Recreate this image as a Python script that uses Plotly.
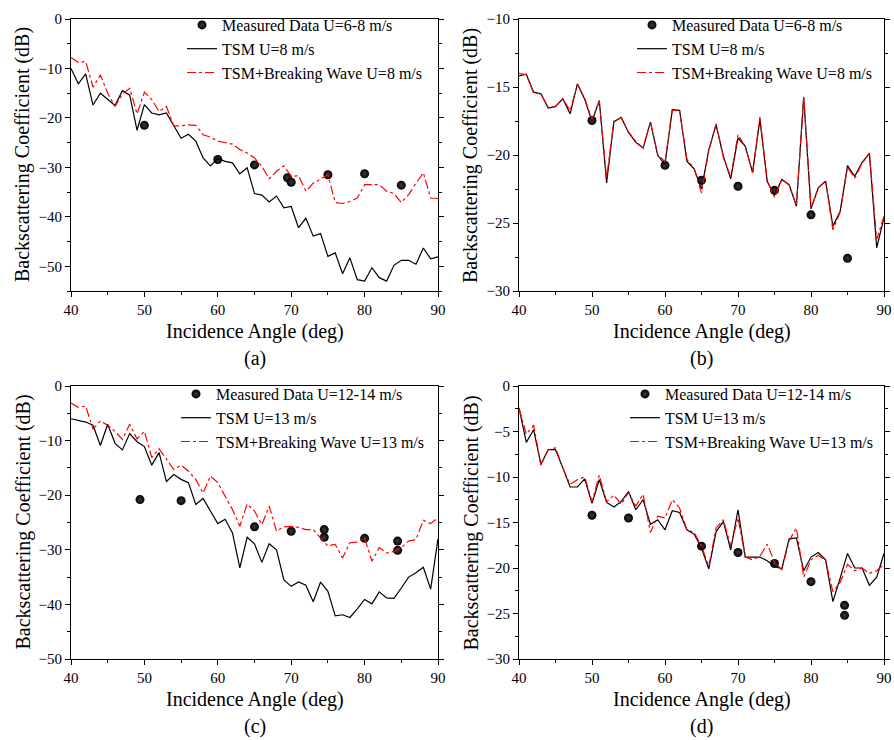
import plotly.graph_objects as go

ANGLES = [40, 41, 42, 43, 44, 45, 46, 47, 48, 49, 50, 51, 52, 53, 54, 55, 56, 57, 58, 59,
          60, 61, 62, 63, 64, 65, 66, 67, 68, 69, 70, 71, 72, 73, 74, 75, 76, 77, 78, 79,
          80, 81, 82, 83, 84, 85, 86, 87, 88, 89, 90]

# Panel (a): U = 8 m/s, first geometry
tsm_a = [-10.0, -13.1, -11.1, -17.4, -15.0, -16.2, -17.5, -14.5, -15.4, -22.5, -17.3, -19.0, -19.4,
         -19.0, -21.5, -24.1, -23.3, -24.7, -28.1, -29.7, -28.2, -28.8, -29.1, -31.3, -30.1,
         -35.3, -35.6, -37.0, -35.8, -38.2, -37.9, -42.2, -40.3, -43.9, -43.4, -48.0, -47.3,
         -51.5, -48.3, -52.7, -53.0, -50.3, -52.3, -53.0, -49.8, -48.8, -48.8, -49.6, -46.3,
         -48.5, -48.1]
bw_a = [-7.8, -8.8, -8.6, -13.8, -11.3, -15.0, -17.7, -15.2, -14.0, -19.2, -14.8, -16.3, -18.7,
        -17.7, -21.6, -21.6, -21.4, -21.5, -23.4, -23.9, -24.7, -25.0, -25.3, -26.4, -27.1,
        -28.1, -29.8, -32.3, -30.8, -29.7, -31.8, -31.7, -34.8, -33.2, -32.3, -31.5, -37.1,
        -37.3, -36.9, -36.2, -33.5, -33.5, -33.5, -34.8, -35.3, -37.1, -35.5, -33.2, -31.1,
        -36.2, -36.3]
meas_a_x = [50, 60, 65, 69.5, 70, 75, 80, 85]
meas_a_y = [-21.5, -28.4, -29.5, -32.1, -33.0, -31.5, -31.3, -33.6]

# Panel (b): U = 8 m/s, second geometry
tsm_b = [-14.18, -14.06, -15.38, -15.5, -16.55, -16.43, -15.87, -16.97, -14.77, -15.9, -17.53,
         -15.99, -22.05, -17.55, -17.24, -18.34, -19.07, -19.49, -17.58, -20.02, -20.7, -16.67,
         -16.72, -20.46, -21.03, -22.5, -19.6, -17.78, -20.1, -21.76, -18.75, -19.36, -21.3,
         -17.4, -21.93, -22.98, -21.8, -22.18, -23.77, -15.75, -23.96, -22.42, -21.93, -25.23,
         -24.13, -20.78, -21.56, -20.54, -19.9, -26.82, -24.62]
bw_b = [-14.0, -14.1, -15.45, -15.5, -16.5, -16.45, -15.85, -16.75, -14.8, -15.85, -17.4, -16.05,
        -21.7, -17.5, -17.25, -18.3, -19.0, -19.5, -17.55, -19.95, -20.5, -16.7, -16.75, -20.3,
        -21.0, -22.8, -19.7, -17.7, -20.2, -21.6, -18.5, -19.4, -21.3, -17.2, -21.9, -23.1,
        -21.8, -22.2, -23.7, -15.7, -23.9, -22.4, -21.9, -25.5, -24.2, -20.9, -21.7, -20.6,
        -19.85, -26.2, -24.5]
meas_b_x = [50, 60, 65, 70, 75, 80, 85]
meas_b_y = [-17.46, -20.76, -21.86, -22.3, -22.6, -24.4, -27.6]

# Panel (c): U = 13 m/s, first geometry
tsm_c = [-6.0, -6.3, -6.6, -7.2, -10.9, -7.0, -10.5, -11.7, -8.7, -10.2, -11.1, -14.5, -12.2,
         -17.5, -16.2, -17.1, -17.7, -21.7, -20.6, -22.9, -25.2, -24.4, -26.9, -33.3, -27.7,
         -28.9, -32.3, -28.9, -30.0, -35.5, -36.7, -35.9, -36.5, -39.5, -35.9, -37.6, -42.1,
         -41.9, -42.4, -40.8, -39.1, -39.9, -37.7, -38.8, -38.9, -37.0, -35.0, -34.2, -33.2,
         -37.2, -28.0]
bw_c = [-3.1, -3.9, -3.7, -7.9, -6.4, -7.2, -8.3, -9.8, -7.0, -9.7, -8.3, -13.1, -11.5, -13.4,
        -15.3, -14.5, -15.6, -17.1, -19.6, -16.5, -17.7, -20.2, -22.6, -25.7, -21.6, -22.9,
        -25.4, -22.0, -26.6, -25.8, -25.7, -25.9, -26.3, -26.3, -27.8, -29.3, -29.0, -31.5,
        -28.7, -28.6, -27.8, -32.1, -29.6, -30.6, -30.3, -29.6, -28.4, -28.1, -24.6, -25.2,
        -24.1]
meas_c_x = [49.4, 55, 65, 70, 74.5, 74.5, 80, 84.5, 84.5]
meas_c_y = [-20.8, -21.0, -25.8, -26.6, -26.3, -27.7, -27.9, -28.4, -30.1]

# Panel (d): U = 13 m/s, second geometry
tsm_d = [-2.4, -6.2, -4.8, -8.6, -7.0, -7.0, -9.0, -11.1, -11.1, -10.2, -12.9, -10.3, -12.8,
         -13.3, -12.7, -11.6, -13.6, -12.5, -15.2, -14.7, -15.8, -13.7, -13.9, -15.8, -16.3,
         -17.8, -20.1, -16.0, -14.9, -18.0, -13.6, -18.8, -18.8, -18.8, -19.2, -19.8, -20.1,
         -16.8, -16.7, -20.3, -18.8, -18.3, -19.1, -23.7, -21.1, -18.4, -20.0, -20.0, -21.9,
         -21.0, -18.4]
bw_d = [-2.4, -5.3, -4.3, -8.7, -7.0, -6.8, -9.0, -10.8, -10.3, -10.0, -12.7, -9.8, -12.7, -12.0,
        -13.0, -11.7, -13.2, -11.9, -16.1, -14.3, -14.5, -12.5, -13.4, -15.8, -16.1, -17.6,
        -19.8, -15.6, -14.7, -17.6, -14.5, -18.8, -19.1, -18.7, -17.4, -19.3, -20.2, -17.0,
        -15.6, -21.0, -19.1, -18.6, -19.2, -22.6, -21.6, -19.6, -20.3, -20.0, -20.6, -20.3,
        -19.6]
meas_d_x = [50, 55, 65, 70, 75, 80, 84.6, 84.6]
meas_d_y = [-14.2, -14.5, -17.6, -18.3, -19.5, -21.5, -24.1, -25.2]

labels_8 = ["Measured Data U=6-8 m/s", "TSM U=8 m/s", "TSM+Breaking Wave U=8 m/s"]
labels_13 = ["Measured Data U=12-14 m/s", "TSM U=13 m/s", "TSM+Breaking Wave U=13 m/s"]
panel_letters = ["(a)", "(b)", "(c)", "(d)"]
x_title = "Incidence Angle (deg)"
y_title = "Backscattering Coefficient (dB)"

FONT = "Liberation Serif"
W, H = 894, 740

panels = [
    dict(tsm=tsm_a, bw=bw_a, mx=meas_a_x, my=meas_a_y, labels=labels_8,
         px=(71, 438), py=(19, 291), yr=(-55, 0), dt=10, mdt=5, leg=(182, 8)),
    dict(tsm=tsm_b, bw=bw_b, mx=meas_b_x, my=meas_b_y, labels=labels_8,
         px=(519, 884), py=(19, 291), yr=(-30, -10), dt=5, mdt=2.5, leg=(632, 8)),
    dict(tsm=tsm_c, bw=bw_c, mx=meas_c_x, my=meas_c_y, labels=labels_13,
         px=(71, 438), py=(386, 659), yr=(-50, 0), dt=10, mdt=5, leg=(176, 377)),
    dict(tsm=tsm_d, bw=bw_d, mx=meas_d_x, my=meas_d_y, labels=labels_13,
         px=(519, 884), py=(386, 659), yr=(-30, 0), dt=5, mdt=2.5, leg=(625, 377)),
]

fig = go.Figure()
layout = dict(
    width=W, height=H, margin=dict(l=0, r=0, t=0, b=0, autoexpand=False),
    paper_bgcolor="white", plot_bgcolor="white",
    font=dict(family=FONT, color="black", size=15),
    annotations=[],
)

for i, p in enumerate(panels):
    n = "" if i == 0 else str(i + 1)
    xa, ya = "x" + n, "y" + n
    leg = "legend" + n
    fig.add_trace(go.Scatter(
        x=p["mx"], y=p["my"], mode="markers", name=p["labels"][0],
        xaxis=xa, yaxis=ya, legend=leg,
        marker=dict(color="black", size=9, line=dict(width=0),
                    gradient=dict(type="radial", color="#3c3c3c"))))
    fig.add_trace(go.Scatter(
        x=ANGLES, y=p["tsm"], mode="lines", name=p["labels"][1],
        xaxis=xa, yaxis=ya, legend=leg,
        line=dict(color="black", width=1.2)))
    fig.add_trace(go.Scatter(
        x=ANGLES, y=p["bw"], mode="lines", name=p["labels"][2],
        xaxis=xa, yaxis=ya, legend=leg,
        line=dict(color="red", width=1.2, dash="dashdot")))

    x0, x1 = p["px"]
    y0, y1 = p["py"]
    dom_x = [x0 / W, x1 / W]
    dom_y = [(H - y1) / H, (H - y0) / H]
    layout["xaxis" + n] = dict(
        domain=dom_x, anchor=ya, range=[40, 90], dtick=10, tick0=40,
        showline=True, linecolor="black", linewidth=1, mirror=True,
        ticks="outside", ticklen=5, tickwidth=1, tickcolor="black",
        minor=dict(dtick=5, ticks="outside", ticklen=3, tickwidth=1, tickcolor="black"),
        showgrid=False, zeroline=False, automargin=False,
        tickfont=dict(family=FONT, size=15, color="black"))
    layout["yaxis" + n] = dict(
        domain=dom_y, anchor=xa, range=list(p["yr"]), dtick=p["dt"], tick0=0,
        showline=True, linecolor="black", linewidth=1, mirror="ticks",
        ticks="outside", ticklen=5, tickwidth=1, tickcolor="black",
        minor=dict(dtick=p["mdt"], ticks="outside", ticklen=3, tickwidth=1, tickcolor="black"),
        showgrid=False, zeroline=False, automargin=False,
        tickfont=dict(family=FONT, size=15, color="black"))
    lx, ly = p["leg"]
    layout[leg] = dict(
        x=lx / W, y=(H - ly) / H, xanchor="left", yanchor="top",
        bgcolor="rgba(0,0,0,0)", borderwidth=0,
        font=dict(family=FONT, size=16, color="black"),
        tracegroupgap=0, itemwidth=30)

    cx = (x0 + x1) / 2
    cy = (y0 + y1) / 2
    layout["annotations"] += [
        dict(text=x_title, xref="paper", yref="paper", x=cx / W, y=(H - (y1 + 40)) / H,
             xanchor="center", yanchor="middle", showarrow=False,
             font=dict(family=FONT, size=20, color="black")),
        dict(text=panel_letters[i], xref="paper", yref="paper", x=cx / W,
             y=(H - (y1 + 67)) / H, xanchor="center", yanchor="middle", showarrow=False,
             font=dict(family=FONT, size=20, color="black")),
        dict(text=y_title, xref="paper", yref="paper", x=(x0 - 48) / W, y=(H - cy) / H,
             xanchor="center", yanchor="middle", textangle=-90, showarrow=False,
             font=dict(family=FONT, size=20, color="black")),
    ]

fig.update_layout(**layout)
fig.write_html("out.html")
